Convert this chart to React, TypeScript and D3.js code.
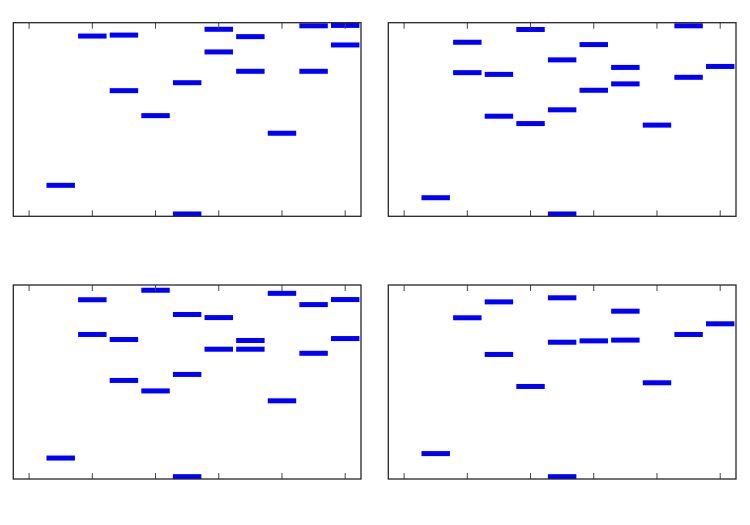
import React from "react";
import * as d3 from "d3";

// Bar positions (x) and levels (y, percent of axis height) for each panel
const panel1X = [1, 2, 3, 3, 4, 5, 5, 6, 6, 7, 7, 8, 9, 9, 10, 10];
const panel1Y = [16.0, 93.1, 93.6, 64.9, 52.0, 69.0, 1.2, 96.6, 84.9, 92.8, 74.9, 42.9, 98.4, 74.9, 98.6, 88.5];

const panel2X = [1, 2, 2, 3, 3, 4, 4, 5, 5, 5, 6, 6, 7, 7, 8, 9, 9, 10];
const panel2Y = [9.6, 89.9, 74.2, 73.3, 51.7, 96.5, 47.9, 80.8, 55.0, 1.2, 88.7, 65.1, 76.9, 68.4, 47.1, 98.4, 71.8, 77.4];

const panel3X = [1, 2, 2, 3, 3, 4, 4, 5, 5, 5, 6, 6, 7, 7, 8, 8, 9, 9, 10, 10];
const panel3Y = [10.8, 92.4, 74.5, 71.9, 50.8, 97.3, 45.4, 84.8, 53.9, 1.2, 83.2, 66.9, 71.4, 66.9, 95.7, 40.3, 89.9, 64.8, 92.5, 72.4];

const panel4X = [1, 2, 3, 3, 4, 5, 5, 5, 6, 7, 7, 8, 9, 10];
const panel4Y = [13.1, 83.1, 91.3, 64.2, 47.7, 93.4, 70.5, 1.2, 71.2, 86.5, 71.6, 49.6, 74.5, 80.0];

const xTicks = [0, 2, 4, 6, 8, 10];

const panels = [
  { id: "p1", xs: panel1X, ys: panel1Y, left: 13.3, right: 361, top: 22.7, bottom: 216.3 },
  { id: "p2", xs: panel2X, ys: panel2Y, left: 388.3, right: 736, top: 22.7, bottom: 216.3 },
  { id: "p3", xs: panel3X, ys: panel3Y, left: 13.3, right: 361, top: 285, bottom: 479 },
  { id: "p4", xs: panel4X, ys: panel4Y, left: 388.3, right: 736, top: 285, bottom: 479 },
];

function Panel({ p }: { p: typeof panels[number] }) {
  const x = d3.scaleLinear().domain([-0.5, 10.5]).range([p.left, p.right]);
  const y = d3.scaleLinear().domain([0, 100]).range([p.bottom, p.top]);
  const barH = 5;
  const half = 0.45;
  return (
    <g>
      <defs>
        <clipPath id={`clip-${p.id}`}>
          <rect x={p.left} y={p.top} width={p.right - p.left} height={p.bottom - p.top} />
        </clipPath>
      </defs>
      <g clipPath={`url(#clip-${p.id})`}>
        {p.xs.map((xv, i) => (
          <rect
            key={i}
            x={x(xv - half)}
            y={y(p.ys[i]) - barH / 2}
            width={x(xv + half) - x(xv - half)}
            height={barH}
            fill="#0000ff"
          />
        ))}
      </g>
      {xTicks.map((t) => (
        <g key={t}>
          <line x1={x(t)} x2={x(t)} y1={p.bottom} y2={p.bottom - 6} stroke="#444" strokeWidth={1} />
          <line x1={x(t)} x2={x(t)} y1={p.top} y2={p.top + 6} stroke="#444" strokeWidth={1} />
        </g>
      ))}
      <rect
        x={p.left}
        y={p.top}
        width={p.right - p.left}
        height={p.bottom - p.top}
        fill="none"
        stroke="#262626"
        strokeWidth={1.3}
      />
    </g>
  );
}

export default function App() {
  return (
    <svg
      width={750}
      height={525}
      style={{ position: "absolute", left: 0, top: 0, background: "#fff" }}
    >
      <rect x={0} y={0} width={750} height={525} fill="#fff" />
      {panels.map((p) => (
        <Panel key={p.id} p={p} />
      ))}
    </svg>
  );
}
